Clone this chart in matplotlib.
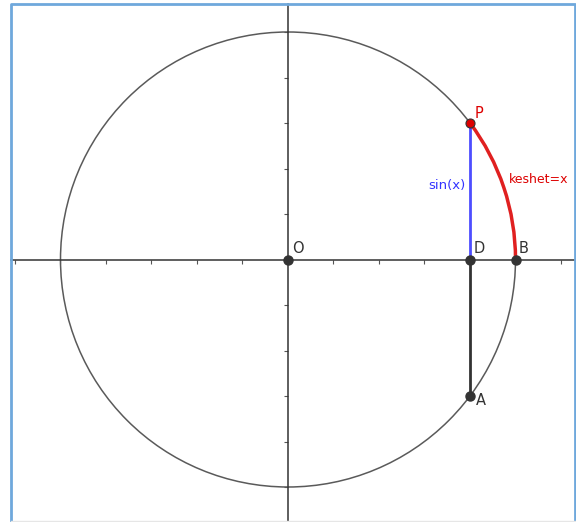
import matplotlib.pyplot as plt
import numpy as np
from matplotlib.patches import Circle, Arc

# geometry (units: one tick = 1)
radius = 5
point_names = ['O', 'D', 'B', 'P', 'A']
point_x = [0, 4, 5, 4, 4]
point_y = [0, 0, 0, 3, -3]
x_ticks = [-6, -5, -4, -3, -2, -1, 1, 2, 3, 4, 5, 6]
y_ticks = [-5, -4, -3, -2, -1, 1, 2, 3, 4, 5]

pts = dict(zip(point_names, zip(point_x, point_y)))

fig = plt.figure(figsize=(5.76, 5.22), dpi=100)
ax = fig.add_axes([0, 0, 1, 1])

scale = 45.5     # pixels per unit
ox, oy = 288, 259.5
ax.set_xlim(-ox / scale, (576 - ox) / scale)
ax.set_ylim(-(522 - oy) / scale, oy / scale)
ax.set_aspect('auto')

# axes through the origin
ax.spines['left'].set_position('zero')
ax.spines['bottom'].set_position('zero')
ax.spines['top'].set_visible(False)
ax.spines['right'].set_visible(False)
ax.spines['bottom'].set_bounds((11 - ox) / scale, (574 - ox) / scale)
ax.spines['left'].set_bounds(-(521 - oy) / scale, (oy - 4) / scale)
for s in ['left', 'bottom']:
    ax.spines[s].set_color('#333333')
    ax.spines[s].set_linewidth(1.1)
ax.set_xticks(x_ticks)
ax.set_yticks(y_ticks)
ax.set_xticklabels([])
ax.set_yticklabels([])
ax.tick_params(direction='out', length=3, width=0.8, color='#555555')

# circle
ax.add_patch(Circle((0, 0), radius, fill=False, ec='#5a5a5a', lw=1.1, zorder=2))

# segments
px, py = pts['P']
dx, dy = pts['D']
axx, ayy = pts['A']
ax.plot([dx, axx], [dy, ayy], color='#333333', lw=2, zorder=3)
ax.plot([px, dx], [py, dy], color='#4d4dff', lw=2, zorder=3)

# arc from B to P
ang = np.degrees(np.arctan2(py, px))
ax.add_patch(Arc((0, 0), 2 * radius, 2 * radius, theta1=0, theta2=ang,
                 color='#e02020', lw=2.5, zorder=4))

# points
for n in ['O', 'D', 'B', 'A']:
    ax.plot(*pts[n], 'o', ms=6.5, color='#333333', zorder=5)
ax.plot(px, py, 'o', ms=6.5, mfc='#dd0000', mec='#333333', mew=0.8, zorder=6)

# labels
lab = dict(fontsize=10.5)
ax.text(0.08, 0.14, 'O', color='#333333', **lab)
ax.text(dx + 0.08, 0.14, 'D', color='#333333', **lab)
ax.text(5.06, 0.14, 'B', color='#333333', **lab)
ax.text(px + 0.1, py + 0.12, 'P', color='#dd0000', **lab)
ax.text(axx + 0.12, ayy - 0.2, 'A', color='#333333', **lab)
ax.text(px - 0.5, 1.62, 'sin(x)', color='#3333ff', ha='center', va='center', fontsize=9.5)
ax.text(4.85, 1.75, 'keshet=x', color='#dd0000', ha='left', va='center', fontsize=9)

# frame: blue on left, top and right, faint grey on the bottom
bx0, bx1 = 10.5 / 576, 574.5 / 576
by0, by1 = 1 / 522, 518.5 / 522
fig.add_artist(plt.Line2D([bx0, bx0, bx1, bx1], [by0, by1, by1, by0],
                          transform=fig.transFigure, color='#6fa8dc', lw=2))
fig.add_artist(plt.Line2D([bx0, bx1], [by0, by0],
                          transform=fig.transFigure, color='#e6e6e6', lw=1))

fig.savefig('out.png', dpi=100)
